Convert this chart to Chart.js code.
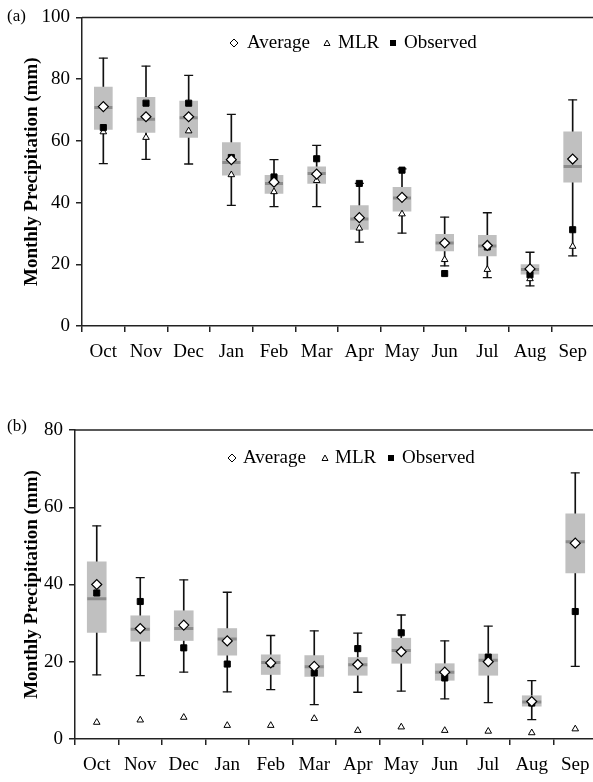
<!DOCTYPE html>
<html><head><meta charset="utf-8">
<script src="https://cdn.jsdelivr.net/npm/chart.js@4.4.0/dist/chart.umd.min.js"></script>
<style>
html,body{margin:0;padding:0;background:#fff;overflow:hidden;width:593px;height:782px;position:relative;}
.wrap{position:absolute;left:0;width:610px;}
#wa{top:0;height:390px}
#wb{top:390px;height:392px}
.tag{position:absolute;font-family:"Liberation Serif",serif;font-size:17px;color:#000;line-height:20px;white-space:nowrap}
.leg{position:absolute;font-family:"Liberation Serif",serif;font-size:19px;color:#000;line-height:22px;white-space:nowrap}
svg.mk{position:absolute;overflow:visible}
</style></head>
<body>
<div class="wrap" id="wa"><canvas id="ca" width="610" height="390"></canvas></div>
<div class="wrap" id="wb"><canvas id="cb" width="610" height="392"></canvas></div>
<div class="tag" style="left:7px;top:6px">(a)</div>
<div class="tag" style="left:7px;top:416px">(b)</div>
<div id="legends"></div>
<script>
// ---------- data ----------
const months = ['Oct','Nov','Dec','Jan','Feb','Mar','Apr','May','Jun','Jul','Aug','Sep'];
const seriesNames = ['Average','MLR','Observed'];
const yTitle = 'Monthly Precipitation (mm)';

// panel (a)
const aWhiskerHigh = [86.8, 84.2, 81.2, 68.6, 53.9, 58.5, 46.2, 50.9, 35.3, 36.7, 23.9, 73.3];
const aBoxHigh     = [77.4, 74.1, 72.9, 59.4, 48.8, 51.6, 39.0, 44.9, 29.7, 29.4, 19.9, 62.9];
const aMedian      = [70.8, 67.0, 67.5, 53.0, 46.2, 49.4, 34.7, 41.5, 26.9, 25.9, 18.3, 51.7];
const aBoxLow      = [63.7, 62.7, 61.1, 48.9, 43.0, 46.2, 31.3, 37.2, 24.3, 22.7, 16.8, 46.6];
const aWhiskerLow  = [52.6, 54.0, 52.5, 39.1, 38.7, 38.7, 27.2, 30.1, 19.5, 15.7, 13.0, 22.7];
const aAverage     = [71.1, 67.8, 67.8, 53.9, 46.6, 49.2, 35.1, 41.7, 26.9, 26.1, 18.5, 54.1];
const aMLR         = [62.9, 61.1, 63.2, 49.0, 43.5, 47.1, 31.7, 36.3, 21.5, 18.3, 15.3, 25.8];
const aObserved    = [64.3, 72.2, 72.2, 54.6, 48.3, 54.2, 46.2, 50.5, 17.0, 25.6, 16.6, 31.2];
const aTicks = [0, 20, 40, 60, 80, 100];

// panel (b)
const bWhiskerHigh = [55.2, 41.8, 41.2, 38.0, 26.8, 28.0, 27.4, 32.1, 25.4, 29.2, 15.1, 68.9];
const bBoxHigh     = [45.9, 31.9, 33.2, 28.6, 21.8, 21.6, 21.1, 26.1, 19.5, 22.0, 11.2, 58.3];
const bMedian      = [36.3, 28.4, 28.6, 25.9, 19.8, 18.7, 19.2, 22.9, 17.3, 20.4, 9.6, 51.1];
const bBoxLow      = [27.6, 25.3, 25.5, 21.7, 16.7, 16.2, 16.5, 19.6, 15.2, 16.5, 8.5, 43.0];
const bWhiskerLow  = [16.6, 16.4, 17.3, 12.2, 12.8, 8.9, 12.1, 12.4, 10.4, 9.4, 5.0, 18.8];
const bAverage     = [40.0, 28.6, 29.5, 25.4, 19.7, 18.8, 19.3, 22.6, 17.3, 20.0, 9.7, 50.7];
const bMLR         = [4.3, 4.9, 5.6, 3.5, 3.5, 5.3, 2.2, 3.1, 2.2, 2.0, 1.6, 2.6];
const bObserved    = [37.8, 35.6, 23.6, 19.4, 19.5, 17.1, 23.4, 27.5, 15.8, 21.2, 9.3, 33.0];
const bTicks = [0, 20, 40, 60, 80];

// ---------- chart ----------
const FONT = '"Liberation Serif", "Times New Roman", serif';
const AXIS = '#222';

const frame = {
  id: 'frame',
  afterDraw(chart) {
    const {ctx, chartArea: {left, right, top}} = chart;
    ctx.save();
    ctx.strokeStyle = AXIS; ctx.lineWidth = 1.5;
    ctx.beginPath(); ctx.moveTo(left, top); ctx.lineTo(right, top); ctx.stroke();
    ctx.restore();
  }
};

function makeChart(id, d, L) {
  const pt = (data, style, r, bg, bc, bw, order) => ({
    type: 'line', data, showLine: false, pointStyle: style, pointRadius: r,
    pointBackgroundColor: bg, pointBorderColor: bc, pointBorderWidth: bw,
    borderColor: bc, backgroundColor: bg, order
  });
  new Chart(document.getElementById(id), {
    type: 'bar',
    data: {
      labels: months,
      datasets: [
        { type: 'bar', data: d.wl.map((v, i) => [v, d.wh[i]]), backgroundColor: '#111',
          barThickness: 1, grouped: false, order: 9 },
        { type: 'bar', data: d.bl.map((v, i) => [v, d.bh[i]]), backgroundColor: '#c0c0c0',
          barThickness: L.box, grouped: false, order: 8 },
        pt(d.wh, 'line', 4.5, '#000', '#111', 1.3, 7),
        pt(d.wl, 'line', 4.5, '#000', '#111', 1.3, 7),
        pt(d.med, 'line', L.box / 2, '#8c8c8c', '#8c8c8c', 3, 6),
        pt(d.mlr, 'triangle', 3.8, '#fff', '#000', 1, 3),
        pt(d.obs, 'rect', 4.3, '#000', '#000', 1, 2),
        pt(d.avg, 'rectRot', 5, '#fff', '#000', 1.2, 1)
      ]
    },
    options: {
      responsive: false, animation: false,
      layout: { padding: { top: L.top, right: L.right, left: 0, bottom: 0 } },
      plugins: { legend: { display: false }, tooltip: { enabled: false } },
      scales: {
        x: {
          type: 'category', offset: true,
          grid: { display: true, drawOnChartArea: false, offset: true, tickLength: 6, color: AXIS, lineWidth: 1.5 },
          border: { display: true, color: AXIS, width: 1.5 },
          ticks: { font: { family: FONT, size: 19 }, color: '#000', padding: 9, maxRotation: 0, autoSkip: false },
          afterFit: s => { s.height = L.xh; }
        },
        y: {
          min: 0, max: L.max,
          afterBuildTicks: s => { s.ticks = L.ticks.map(v => ({ value: v })); },
          grid: { display: true, drawOnChartArea: false, tickLength: 6, color: AXIS, lineWidth: 1.5 },
          border: { display: true, color: AXIS, width: 1.5 },
          ticks: { font: { family: FONT, size: 19 }, color: '#000', padding: 6 },
          title: { display: true, text: yTitle, color: '#000',
                   font: { family: FONT, size: 19, weight: 'bold' }, padding: { top: 21, bottom: 0 } },
          afterFit: s => { s.width = L.yw; }
        }
      }
    },
    plugins: [frame]
  });
}

makeChart('ca', { wh: aWhiskerHigh, bh: aBoxHigh, med: aMedian, bl: aBoxLow, wl: aWhiskerLow,
                  avg: aAverage, mlr: aMLR, obs: aObserved },
          { top: 16, right: 16, xh: 64, yw: 82, max: 100, ticks: aTicks, box: 18 });
makeChart('cb', { wh: bWhiskerHigh, bh: bBoxHigh, med: bMedian, bl: bBoxLow, wl: bWhiskerLow,
                  avg: bAverage, mlr: bMLR, obs: bObserved },
          { top: 40, right: 13, xh: 43, yw: 75, max: 80, ticks: bTicks, box: 19 });

// ---------- legends (HTML) ----------
function legend(y, xs) {
  const host = document.getElementById('legends');
  const mk = [
    '<polygon points="0,-4 4,0 0,4 -4,0" fill="#fff" stroke="#000" stroke-width="1"/>',
    '<polygon points="0,-3 3,2.5 -3,2.5" fill="#fff" stroke="#000" stroke-width="1"/>',
    '<rect x="-3" y="-3" width="6" height="6" fill="#000"/>'
  ];
  seriesNames.forEach((name, i) => {
    const s = document.createElementNS('http://www.w3.org/2000/svg', 'svg');
    s.setAttribute('class', 'mk'); s.setAttribute('width', '10'); s.setAttribute('height', '10');
    s.setAttribute('viewBox', '-5 -5 10 10');
    s.style.left = (xs[i][0] - 5) + 'px'; s.style.top = (y - 5) + 'px';
    s.innerHTML = mk[i];
    host.appendChild(s);
    const t = document.createElement('div');
    t.className = 'leg'; t.textContent = name;
    t.style.left = xs[i][1] + 'px'; t.style.top = (y - 12) + 'px';
    host.appendChild(t);
  });
}
legend(43, [[234, 247], [327, 338], [393, 404]]);
legend(458, [[232, 243], [325, 335], [391, 402]]);
</script>
</body></html>
